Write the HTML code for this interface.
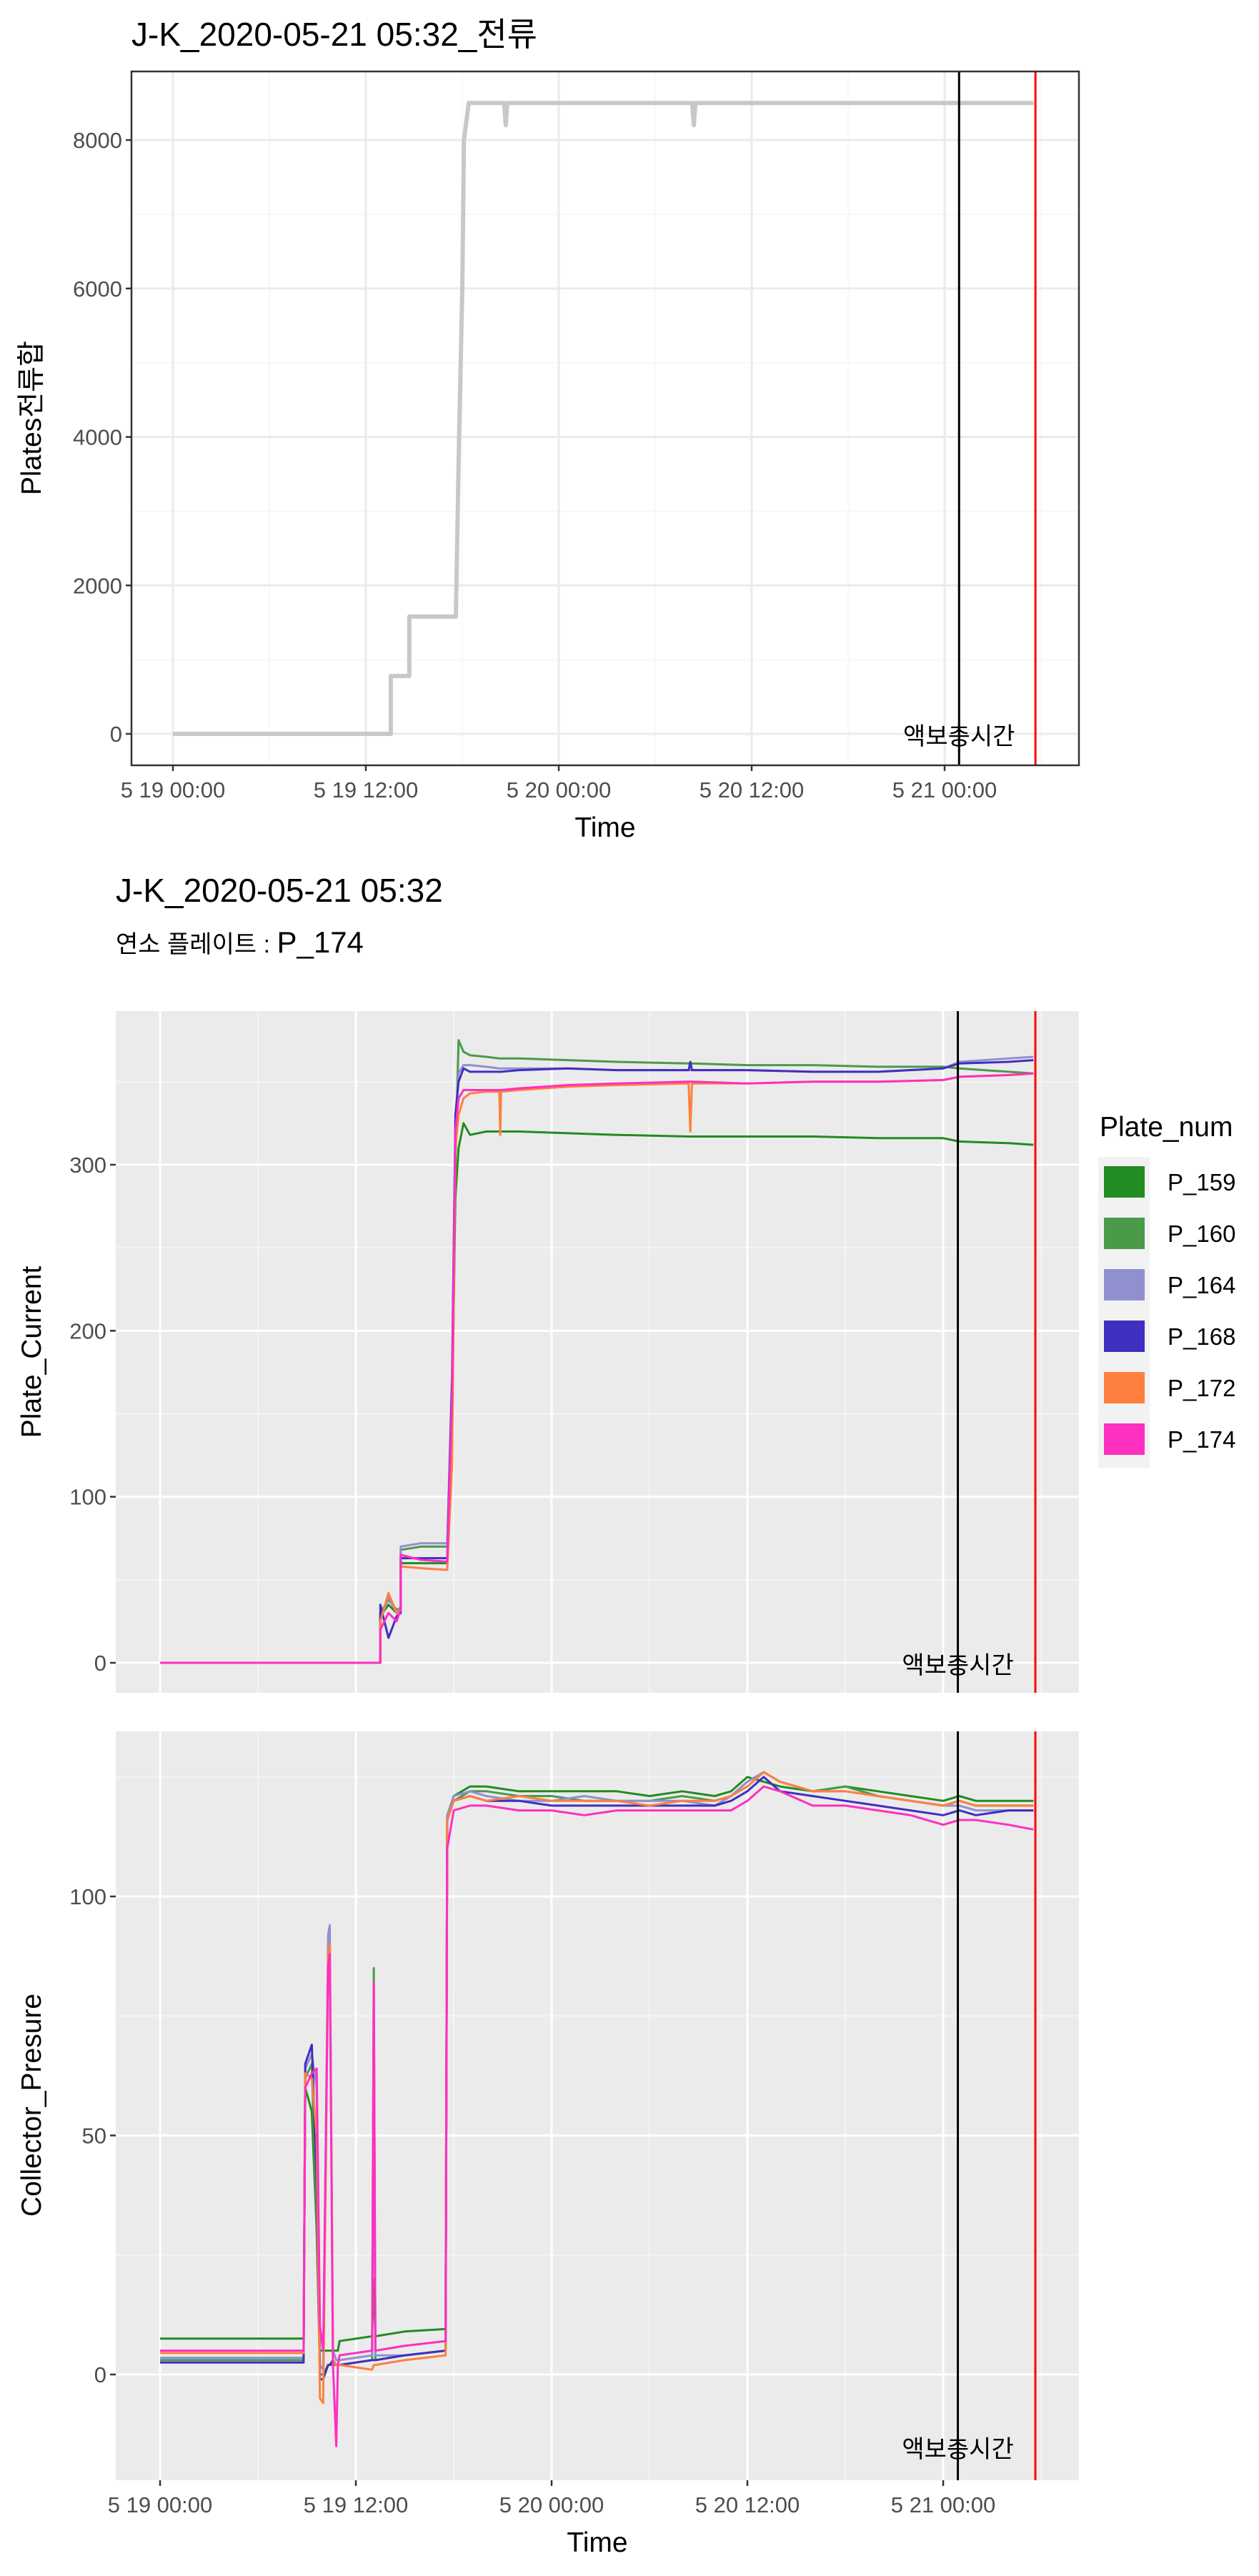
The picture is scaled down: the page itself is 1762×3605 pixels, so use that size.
<!DOCTYPE html>
<html><head><meta charset="utf-8">
<style>
html,body{margin:0;padding:0;background:#fff;}
svg text{font-family:"Liberation Sans","Noto Sans CJK KR",sans-serif;}
</style></head>
<body>
<svg id="root" xmlns="http://www.w3.org/2000/svg" width="1762" height="3600" viewBox="0 0 1762 3600"></svg>
<script>
// ---------- DATA ----------
const sumTimes = [0, 13.55, 13.55, 14.7, 14.7, 17.6, 17.8, 18.0, 18.1, 18.4, 20.6, 20.7, 20.8, 32.3, 32.4, 32.5, 53.53];
const sumValues = [0, 0, 780, 780, 1580, 1580, 4000, 6000, 8000, 8500, 8500, 8200, 8500, 8500, 8200, 8500, 8500];

const plateNames = ["P_159", "P_160", "P_164", "P_168", "P_172", "P_174"];
const plateColors = ["#228B22", "#4A9A4A", "#9090D0", "#3F2FC0", "#FF7F3F", "#FF2FC0"];

const curTimes = [0, 13.5, 13.5, 14.0, 14.5, 14.75, 14.75, 16, 17.5, 17.6, 17.9, 18.1, 18.3, 18.6, 19, 20, 20.8, 20.85, 20.9, 22, 25, 28, 32.4, 32.5, 32.6, 36, 40, 44, 48, 49, 52, 53.53];
const cur159 = [0,0,28,35,30,32,60,60,60,60,150,280,310,325,318,320,320,320,320,320,319,318,317,317,317,317,317,316,316,314,313,312];
const cur160 = [0,0,30,38,32,33,68,70,70,70,160,300,375,368,366,365,364,364,364,364,363,362,361,361,361,360,360,359,359,358,356,355];
const cur164 = [0,0,25,40,30,34,70,72,72,72,175,320,355,360,360,359,358,358,358,358,358,357,357,357,357,357,356,356,358,362,364,365];
const cur168 = [0,0,35,15,28,30,63,63,63,63,170,330,350,358,356,356,356,356,356,357,358,357,357,362,357,357,356,356,358,361,362,363];
const cur172 = [0,0,25,42,30,32,58,57,56,56,120,310,330,340,343,344,344,318,344,345,347,348,349,320,349,349,350,350,351,353,354,355];
const cur174 = [0,0,20,30,25,32,65,62,61,61,160,320,340,345,345,345,345,345,345,346,348,349,350,350,350,349,350,350,351,353,354,355];

const presTimes = [0, 8.8, 8.9, 9.3, 9.6, 9.8, 10.0, 10.3, 10.4, 10.6, 10.8, 10.9, 11.0, 13.0, 13.1, 13.2, 15, 17.5, 17.6, 18, 19, 20, 22, 24, 26, 28, 30, 32, 34, 35, 36, 37, 38, 40, 42, 44, 46, 48, 49, 50, 52, 53.53];
const pres159 = [7.5,7.5,60,55,30,5,5,5,5,5,5,5,7,8,20,8,9,9.5,117,121,123,123,122,122,122,122,121,122,121,122,125,124,123,122,123,122,121,120,121,120,120,120];
const pres160 = [3,3,62,65,30,0,0,2,2,2,2,2,2,3,85,3,4,5,116,120,122,122,121,121,120,120,120,121,120,121,124,126,124,122,123,121,120,119,120,119,119,119];
const pres164 = [3.5,3.5,64,67,60,2,1,92,94,5,3,3,3,4,80,4,4,5,117,121,122,121,120,120,121,120,120,120,119,121,124,126,124,122,122,121,120,119,119,118,118,118];
const pres168 = [2.5,2.5,65,69,40,-1,-1,2,2,3,2,2,2,3,3,3,4,5,116,120,121,120,120,119,119,119,119,119,119,120,122,125,122,121,120,119,118,117,118,117,118,118];
const pres172 = [4.5,4.5,63,62,50,-5,-6,88,90,3,2,2,2,1,2,2,3,4,116,120,121,120,121,120,120,120,119,120,120,121,123,126,124,122,122,121,120,119,120,119,119,119];
const pres174 = [5,5,60,63,64,10,5,85,88,2,-15,2,4,5,82,5,6,7,110,118,119,119,118,118,117,118,118,118,118,118,120,123,122,119,119,118,117,115,116,116,115,114];

const xTickHours = [0, 12, 24, 36, 48];
const xTickLabels = ["5 19 00:00", "5 19 12:00", "5 20 00:00", "5 20 12:00", "5 21 00:00"];
const sumTicks = [0, 2000, 4000, 6000, 8000];
const curTicks = [0, 100, 200, 300];
const presTicks = [0, 50, 100];
const markTimes = [48.9, 53.65]; // 액보충시간, current time

// ---------- HELPERS ----------
const NS = "http://www.w3.org/2000/svg";
const root = document.getElementById("root");
function mk(tag, attrs, parent) {
  const e = document.createElementNS(NS, tag);
  for (const k in attrs) e.setAttribute(k, attrs[k]);
  (parent || root).appendChild(e);
  return e;
}
function lin(d0, d1, r0, r1) { return v => r0 + (v - d0) * (r1 - r0) / (d1 - d0); }

function panel(cfg) {
  const g = mk("g", {});
  
  
  const X = lin(0, 48, cfg.x0, cfg.x48);
  const Y = lin(cfg.v0, cfg.v1, cfg.y0, cfg.y1);
  const L = cfg.left, R = cfg.right, T = cfg.top, B = cfg.bottom;
  const bg = mk("rect", {x: L, y: T, width: R - L, height: B - T, fill: cfg.bw ? "#fff" : "#EBEBEB"}, g);
  
  
  const major = cfg.bw ? "#EBEBEB" : "#fff";
  const minor = cfg.bw ? "#F5F5F5" : "#F7F7F7";
  for (let h = 6; h < 60; h += 12) { const x = X(h); if (x > L && x < R) mk("line", {x1: x, x2: x, y1: T, y2: B, stroke: minor, "stroke-width": 1.5}, g); }
  for (let i = 0; i < cfg.ticks.length + 1; i++) {
    const step = cfg.ticks[1] - cfg.ticks[0];
    const v = cfg.ticks[0] - step / 2 + i * step;
    const y = Y(v); if (y > T && y < B) mk("line", {x1: L, x2: R, y1: y, y2: y, stroke: minor, "stroke-width": 1.5}, g);
  }
  xTickHours.forEach(h => mk("line", {x1: X(h), x2: X(h), y1: T, y2: B, stroke: major, "stroke-width": 3}, g));
  cfg.ticks.forEach(v => mk("line", {x1: L, x2: R, y1: Y(v), y2: Y(v), stroke: major, "stroke-width": 3}, g));
  cfg.series.forEach(s => {
    const d = s.t.map((t, i) => (i ? "L" : "M") + X(t).toFixed(1) + "," + Y(s.v[i]).toFixed(1)).join("");
    const p = mk("path", {d: d, fill: "none", stroke: s.color, "stroke-width": s.w, "stroke-linejoin": "round"}, g);
    
    
  });
  const bl = mk("line", {x1: X(markTimes[0]), x2: X(markTimes[0]), y1: T, y2: B, stroke: "#000", "stroke-width": 3}, g);
  
  
  const rl = mk("line", {x1: X(markTimes[1]), x2: X(markTimes[1]), y1: T, y2: B, stroke: "#FF0000", "stroke-width": 3}, g);
  
  
  const an = mk("text", {x: X(markTimes[0]), y: cfg.annY, "font-size": 34, "text-anchor": "middle", fill: "#000"}, g);
  an.textContent = "액보충시간";
  
  
  if (cfg.bw) mk("rect", {x: L, y: T, width: R - L, height: B - T, fill: "none", stroke: "#333", "stroke-width": 2.5}, g);
  cfg.ticks.forEach((v, i) => {
    mk("line", {x1: L - 8, x2: L, y1: Y(v), y2: Y(v), stroke: "#333", "stroke-width": 2.5}, g);
    const t = mk("text", {x: L - 13, y: Y(v) + 11, "font-size": 31, "text-anchor": "end", fill: "#4D4D4D"}, g);
    t.textContent = String(v);
    
    
  });
  if (cfg.xlabels) {
    xTickHours.forEach((h, i) => {
      mk("line", {x1: X(h), x2: X(h), y1: B, y2: B + 8, stroke: "#333", "stroke-width": 2.5}, g);
      const t = mk("text", {x: X(h), y: B + 45, "font-size": 31, "text-anchor": "middle", fill: "#4D4D4D"}, g);
      t.textContent = xTickLabels[i];
      
      
    });
    const xt = mk("text", {x: (L + R) / 2, y: B + 100, "font-size": 39, "text-anchor": "middle", fill: "#000"}, g);
    xt.textContent = "Time";
    
    
  }
  const yt = mk("text", {x: 0, y: 0, "font-size": 39, "text-anchor": "middle", fill: "#000", transform: "translate(57," + cfg.ytY + ") rotate(-90)"}, g);
  yt.textContent = cfg.ytitle;
  
  
}

// ---------- TITLES ----------
let t1 = mk("text", {x: 184, y: 64, "font-size": 46, fill: "#000"});
t1.textContent = "J-K_2020-05-21 05:32_전류";


let t2 = mk("text", {x: 162, y: 1262, "font-size": 46, fill: "#000"});
t2.textContent = "J-K_2020-05-21 05:32";


let t3 = mk("text", {x: 162, y: 1333, "font-size": 34, fill: "#000"});


let t3a = mk("tspan", {}, t3);
t3a.textContent = "연소 플레이트 :  ";
let t3b = mk("tspan", {"font-size": 42}, t3);
t3b.textContent = "P_174";

// ---------- PANELS ----------
panel({name: "plates-sum-chart", bw: true, left: 184, right: 1510, top: 100, bottom: 1071,
  x0: 242, x48: 1322, v0: 0, v1: 8000, y0: 1027, y1: 196, ticks: sumTicks, annY: 1042,
  xlabels: true, ytitle: "Plates전류합", ytY: 585,
  series: [{name: "plates-sum-line", t: sumTimes, v: sumValues, color: "#C8C8C8", w: 6}]});

const curSeries = [cur159, cur160, cur164, cur168, cur172, cur174].map((v, i) => ({name: "current-line-" + plateNames[i].toLowerCase(), t: curTimes, v: v, color: plateColors[i], w: 3}));
panel({name: "plate-current-chart", bw: false, left: 162, right: 1510, top: 1415, bottom: 2369,
  x0: 224, x48: 1320, v0: 0, v1: 300, y0: 2327, y1: 1630, ticks: curTicks, annY: 2342,
  xlabels: false, ytitle: "Plate_Current", ytY: 1892, series: curSeries});

const presSeries = [pres159, pres160, pres164, pres168, pres172, pres174].map((v, i) => ({name: "pressure-line-" + plateNames[i].toLowerCase(), t: presTimes, v: v, color: plateColors[i], w: 3}));
panel({name: "collector-pressure-chart", bw: false, left: 162, right: 1510, top: 2423, bottom: 3471,
  x0: 224, x48: 1320, v0: 0, v1: 100, y0: 3323, y1: 2654, ticks: presTicks, annY: 3439,
  xlabels: true, ytitle: "Collector_Presure", ytY: 2946, series: presSeries});

// ---------- LEGEND ----------
const lg = mk("g", {});


const lt = mk("text", {x: 1539, y: 1590, "font-size": 39, fill: "#000"}, lg);
lt.textContent = "Plate_num";


mk("rect", {x: 1537, y: 1619, width: 72, height: 435, fill: "#F2F2F2"}, lg);
plateNames.forEach((n, i) => {
  const y = 1632 + i * 72;
  const r = mk("rect", {x: 1545, y: y, width: 57, height: 44, fill: plateColors[i]}, lg);
  
  
  const t = mk("text", {x: 1634, y: y + 34, "font-size": 33, fill: "#000"}, lg);
  t.textContent = n;
  
  
});
</script>
</body></html>
